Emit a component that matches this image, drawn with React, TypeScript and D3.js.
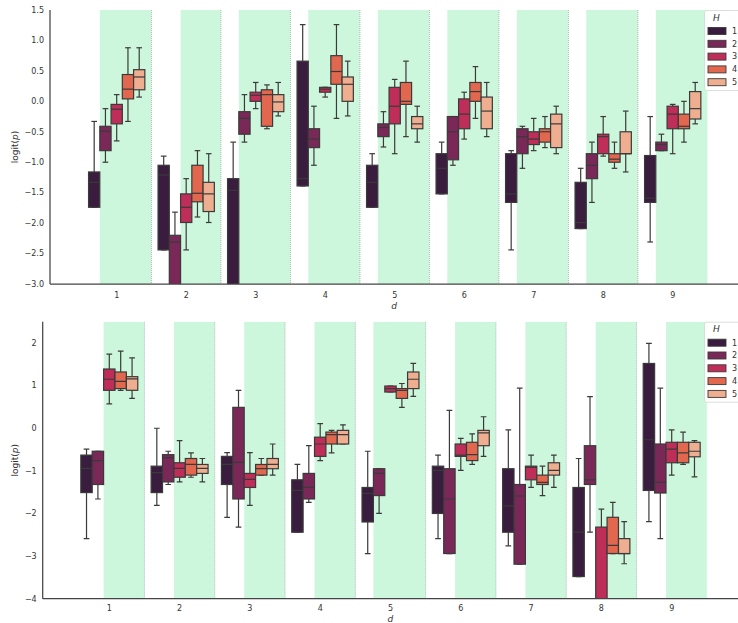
import React from "react";
import * as d3 from "d3";

const categories = ["1", "2", "3", "4", "5", "6", "7", "8", "9"];
const hues = ["1", "2", "3", "4", "5"];
const colors = ["#3a1c3e", "#7a2858", "#be2e59", "#e1684f", "#eeae8f"];

// top panel (rows: d categories, cols: H)
const topHi = [
  [-0.33, -0.12, 0.11, 0.88, 0.88],
  [-0.9, -1.82, -1.27, -0.81, -0.86],
  [-0.67, 0.11, 0.31, 0.27, 0.31],
  [1.26, -0.08, 0.23, 1.26, 0.66],
  [-0.86, -0.17, 0.36, 0.66, -0.08],
  [-0.67, -0.25, 0.15, 0.57, 0.31],
  [-0.81, -0.41, -0.28, -0.25, -0.08],
  [-1.1, -0.67, -0.25, -0.67, -0.16],
  [-0.25, -0.54, -0.05, 0.0, 0.31],
];
const topQ3 = [
  [-1.16, -0.41, -0.05, 0.44, 0.52],
  [-1.05, -2.2, -1.52, -1.05, -1.33],
  [-1.27, -0.17, 0.15, 0.19, 0.11],
  [0.66, -0.45, 0.23, 0.75, 0.4],
  [-1.05, -0.37, 0.23, 0.31, -0.25],
  [-0.86, -0.25, 0.04, 0.31, 0.07],
  [-0.86, -0.45, -0.5, -0.45, -0.21],
  [-1.33, -0.86, -0.54, -0.86, -0.5],
  [-0.89, -0.67, -0.08, -0.21, 0.16],
];
const topMed = [
  [-1.33, -0.49, -0.13, 0.2, 0.4],
  [-1.21, -2.31, -1.74, -1.51, -1.52],
  [-1.46, -0.28, 0.1, 0.11, -0.01],
  [-1.27, -0.62, 0.2, 0.49, 0.28],
  [-1.33, -0.43, -0.08, 0.0, -0.37],
  [-1.1, -0.5, -0.21, 0.16, -0.16],
  [-1.52, -0.58, -0.62, -0.5, -0.37],
  [-1.99, -1.05, -0.58, -0.95, -0.86],
  [-1.59, -0.71, -0.21, -0.41, -0.12],
];
const topQ1 = [
  [-1.74, -0.81, -0.37, 0.04, 0.19],
  [-2.44, -3.3, -1.99, -1.65, -1.81],
  [-3.3, -0.54, 0.0, -0.41, -0.17],
  [-1.39, -0.76, 0.15, 0.28, 0.0],
  [-1.74, -0.58, -0.37, -0.05, -0.45],
  [-1.52, -0.96, -0.45, 0.0, -0.45],
  [-1.66, -0.86, -0.71, -0.67, -0.76],
  [-2.09, -1.27, -0.86, -1.0, -0.86],
  [-1.66, -0.81, -0.45, -0.45, -0.29],
];
const topLo = [
  [-1.74, -1.0, -0.65, -0.33, 0.07],
  [-2.44, -3.6, -2.44, -1.9, -1.99],
  [-3.6, -0.67, -0.12, -0.45, -0.24],
  [-1.39, -1.05, 0.07, -0.28, -0.24],
  [-1.74, -0.75, -0.86, -0.58, -0.67],
  [-1.52, -1.05, -0.62, -0.28, -0.58],
  [-2.44, -1.1, -0.81, -0.76, -0.86],
  [-2.09, -1.66, -0.9, -1.1, -1.16],
  [-2.31, -0.81, -0.86, -0.67, -0.37],
];
const topShadeStart = [1, 2, 1, 1, 1, 1, 1, 1, 1];
const topYTicks = [1.5, 1.0, 0.5, 0.0, -0.5, -1.0, -1.5, -2.0, -2.5, -3.0];

// bottom panel
const botHi = [
  [-0.49, -0.54, 1.74, 1.81, 1.65],
  [0.0, -0.54, -0.29, -0.58, -0.71],
  [-0.57, 0.89, -0.57, -0.71, -0.37],
  [-0.85, -0.41, 0.11, -0.05, 0.08],
  [-0.54, -0.95, 0.99, 1.05, 1.52],
  [-0.63, 0.42, -0.24, -0.13, 0.27],
  [-0.04, 0.94, -0.63, -0.89, -0.63],
  [-0.71, 0.74, -1.9, -1.74, -2.19],
  [1.99, 0.94, -0.04, -0.09, -0.29],
];
const botQ3 = [
  [-0.63, -0.54, 1.39, 1.32, 1.21],
  [-0.89, -0.62, -0.81, -0.71, -0.85],
  [-0.66, 0.49, -1.06, -0.85, -0.71],
  [-1.21, -1.06, -0.21, -0.09, -0.05],
  [-1.39, -0.95, 0.99, 0.93, 1.32],
  [-0.89, -0.95, -0.37, -0.33, -0.05],
  [-0.95, -1.32, -0.89, -1.1, -0.81],
  [-1.39, -0.41, -2.32, -2.09, -2.59],
  [1.52, -0.37, -0.33, -0.33, -0.33],
];
const botMed = [
  [-0.94, -0.76, 1.15, 1.1, 1.16],
  [-1.04, -0.69, -0.94, -0.85, -0.94],
  [-0.85, -0.8, -1.2, -0.95, -0.85],
  [-1.46, -1.39, -0.37, -0.15, -0.15],
  [-1.53, -1.06, 0.93, 0.89, 1.15],
  [-0.99, -1.66, -0.63, -0.62, -0.11],
  [-1.82, -1.59, -0.92, -1.27, -0.99],
  [-2.44, -1.21, -4.2, -2.75, -2.94],
  [-0.27, -1.27, -0.49, -0.58, -0.54],
];
const botQ1 = [
  [-1.51, -1.32, 0.89, 0.93, 0.89],
  [-1.51, -1.26, -1.15, -1.1, -1.06],
  [-1.32, -1.66, -1.39, -1.1, -0.95],
  [-2.44, -1.66, -0.66, -0.37, -0.37],
  [-2.2, -1.58, 0.85, 0.7, 0.93],
  [-2.0, -2.94, -0.66, -0.76, -0.41],
  [-2.44, -3.19, -1.21, -1.32, -1.1],
  [-3.48, -1.32, -4.5, -2.94, -2.94],
  [-1.46, -1.52, -0.81, -0.81, -0.67],
];
const botLo = [
  [-2.59, -1.66, 0.57, 0.89, 0.7],
  [-1.81, -1.32, -1.26, -1.15, -1.26],
  [-2.09, -2.32, -1.81, -1.1, -1.1],
  [-2.44, -1.74, -0.76, -0.58, -0.37],
  [-2.94, -2.0, 0.85, 0.49, 0.75],
  [-2.59, -2.94, -0.99, -0.85, -0.66],
  [-2.76, -3.19, -1.39, -1.58, -1.39],
  [-3.48, -2.44, -5.0, -2.94, -3.18],
  [-2.19, -2.59, -1.1, -0.85, -1.14],
];
const botShadeStart = [2, 2, 2, 2, 1, 2, 2, 2, 2];
const botYTicks = [2, 1, 0, -1, -2, -3, -4];

const FONT = "DejaVu Sans, sans-serif";
const GREEN = "#cdf7dc";
const LINE = "#3a3a3a";
const TEXT = "#333";

type PanelProps = {
  id: string;
  left: number;
  right: number;
  top: number;
  bottom: number;
  x0: number;
  x8: number;
  yDomain: [number, number];
  yTicks: number[];
  tickFmt: (v: number) => string;
  hi: number[][];
  q3: number[][];
  med: number[][];
  q1: number[][];
  lo: number[][];
  shade: number[];
  ylabelX: number;
  xlabelY: number;
  xtickDy: number;
};

function Panel(p: PanelProps) {
  const x = d3.scaleLinear().domain([0, categories.length - 1]).range([p.x0, p.x8]);
  const band = x(1) - x(0);
  const y = d3.scaleLinear().domain(p.yDomain).range([p.bottom, p.top]);
  const w = (0.81 * band) / hues.length;
  const capW = w * 0.5;
  const clipId = `clip-${p.id}`;
  const offset = (h: number) => (h - (hues.length - 1) / 2) * w;

  return (
    <g>
      <defs>
        <clipPath id={clipId}>
          <rect x={p.left} y={p.top} width={p.right - p.left} height={p.bottom - p.top} />
        </clipPath>
      </defs>
      <g clipPath={`url(#${clipId})`}>
        {categories.map((c, i) => {
          const xs = x(i) + (p.shade[i] - 2.5) * w;
          const xe = x(i) + band / 2;
          return (
            <rect key={`s${i}`} x={xs} y={p.top} width={xe - xs} height={p.bottom - p.top} fill={GREEN} />
          );
        })}
        {categories.slice(0, -1).map((c, i) => (
          <line
            key={`dl${i}`}
            x1={x(i) + band / 2}
            x2={x(i) + band / 2}
            y1={p.top}
            y2={p.bottom}
            stroke="#aaaaaa"
            strokeWidth={0.8}
            strokeDasharray="1,1"
          />
        ))}
        {categories.map((c, i) =>
          hues.map((h, j) => {
            const cx = x(i) + offset(j);
            const yq3 = y(p.q3[i][j]);
            const yq1 = y(p.q1[i][j]);
            return (
              <g key={`b${i}-${j}`}>
                <line x1={cx} x2={cx} y1={y(p.hi[i][j])} y2={yq3} stroke={LINE} strokeWidth={1.2} />
                <line x1={cx} x2={cx} y1={yq1} y2={y(p.lo[i][j])} stroke={LINE} strokeWidth={1.2} />
                <line x1={cx - capW / 2} x2={cx + capW / 2} y1={y(p.hi[i][j])} y2={y(p.hi[i][j])} stroke={LINE} strokeWidth={1.2} />
                <line x1={cx - capW / 2} x2={cx + capW / 2} y1={y(p.lo[i][j])} y2={y(p.lo[i][j])} stroke={LINE} strokeWidth={1.2} />
                <rect
                  x={cx - w / 2}
                  y={yq3}
                  width={w}
                  height={Math.max(0.5, yq1 - yq3)}
                  fill={colors[j]}
                  stroke={LINE}
                  strokeWidth={1.2}
                />
                <line x1={cx - w / 2} x2={cx + w / 2} y1={y(p.med[i][j])} y2={y(p.med[i][j])} stroke={LINE} strokeWidth={1.2} />
              </g>
            );
          })
        )}
      </g>
      {/* spines */}
      <line x1={p.left} x2={p.left} y1={p.top} y2={p.bottom} stroke="#444" strokeWidth={1.25} />
      <line x1={p.left} x2={p.right} y1={p.bottom} y2={p.bottom} stroke="#444" strokeWidth={1.25} />
      {/* y ticks */}
      {p.yTicks.map((t) => (
        <text key={`yt${t}`} x={p.left - 6} y={y(t)} dy="0.35em" textAnchor="end" fontSize={8} fill={TEXT} fontFamily={FONT}>
          {p.tickFmt(t)}
        </text>
      ))}
      {categories.map((c, i) => (
        <text key={`xt${i}`} x={x(i)} y={p.bottom + p.xtickDy} textAnchor="middle" fontSize={8} fill={TEXT} fontFamily={FONT}>
          {c}
        </text>
      ))}
      <text
        transform={`translate(${p.ylabelX},${(p.top + p.bottom) / 2}) rotate(-90)`}
        textAnchor="middle"
        fontSize={9}
        fill={TEXT}
        fontFamily={FONT}
      >
        logit(<tspan fontStyle="italic">p</tspan>)
      </text>
      <text x={(p.left + p.right) / 2} y={p.xlabelY} textAnchor="middle" fontSize={9} fill={TEXT} fontFamily={FONT} fontStyle="italic">
        d
      </text>
      {/* legend */}
      <g>
        <rect x={704.5} y={p.top + 0.5} width={40} height={80} rx={2} fill="white" fillOpacity={0.85} stroke="#d6d6d6" strokeWidth={0.8} />
        <text x={716.5} y={p.top + 10.5} textAnchor="middle" fontSize={9} fill={TEXT} fontFamily={FONT} fontStyle="italic">
          H
        </text>
        {hues.map((h, j) => (
          <g key={`lg${j}`}>
            <rect x={708} y={p.top + 17.5 + j * 12.8} width={18} height={7} fill={colors[j]} stroke={LINE} strokeWidth={0.9} />
            <text x={732} y={p.top + 21 + j * 12.8} dy="0.35em" fontSize={8} fill={TEXT} fontFamily={FONT}>
              {h}
            </text>
          </g>
        ))}
      </g>
    </g>
  );
}

export default function App() {
  return (
    <svg width={738} height={623} style={{ display: "block", position: "absolute", left: 0, top: 0 }}>
      <rect width={738} height={623} fill="white" />
      <Panel
        id="top"
        left={50}
        right={738}
        top={10}
        bottom={284}
        x0={116.7}
        x8={672.7}
        yDomain={[-3.0, 1.5]}
        yTicks={topYTicks}
        tickFmt={(v) => d3.format(".1f")(v).replace("-", "\u2212")}
        hi={topHi}
        q3={topQ3}
        med={topMed}
        q1={topQ1}
        lo={topLo}
        shade={topShadeStart}
        ylabelX={18}
        xlabelY={309}
        xtickDy={13.5}
      />
      <Panel
        id="bot"
        left={42.7}
        right={738}
        top={321.7}
        bottom={598.7}
        x0={109.3}
        x8={671.7}
        yDomain={[-4, 2.5]}
        yTicks={botYTicks}
        tickFmt={(v) => String(v).replace("-", "\u2212")}
        hi={botHi}
        q3={botQ3}
        med={botMed}
        q1={botQ1}
        lo={botLo}
        shade={botShadeStart}
        ylabelX={18}
        xlabelY={621.5}
        xtickDy={12.5}
      />
    </svg>
  );
}
